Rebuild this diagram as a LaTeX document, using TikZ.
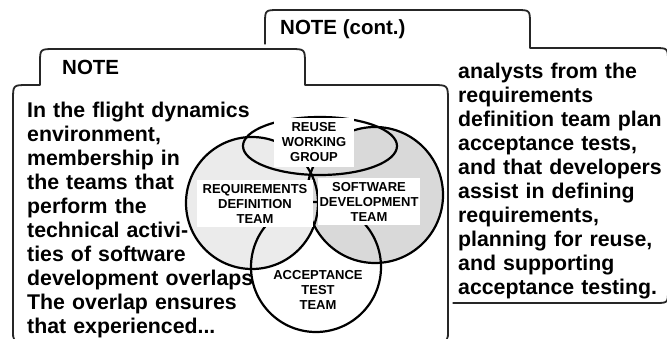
\documentclass[tikz,border=0pt]{standalone}
\usepackage{fontspec}
\setmainfont{Liberation Sans}
\begin{document}
\begin{tikzpicture}[x=1pt, y=-1pt,
    card/.style={draw=black!85, line width=1.8pt, fill=white, line join=round},
    front card/.style={card, preaction={draw=white, line width=9pt}},
    team line/.style={draw=black, line width=2.2pt},
    team label/.style={fill=white, inner sep=0pt, align=center, font=\bfseries\fontsize{13}{15}\selectfont},
    note head/.style={anchor=base west, inner sep=0pt, font=\bfseries\fontsize{20.5}{24}\selectfont},
    note text/.style={anchor=base west, inner sep=0pt, text width=300pt, align=left, font=\bfseries\fontsize{21.3}{23.9}\selectfont}]
    \useasboundingbox (0, 0) rectangle (667, 339);

    \draw[card] (300, 303) -- (265, 60) -- (265, 24) .. controls (265, 10) .. (279, 10) -- (516, 10) .. controls (530, 10) .. (530, 24) -- (530, 48) -- (654, 48) .. controls (668, 48) .. (668, 62) -- (668, 290) .. controls (668, 303) .. (655, 303) -- cycle;
    \node[note head] at (280, 35) (head2) {NOTE (cont.)};
    \node[note text] at (458, 79) (text2) {analysts from the\\ requirements\\ definition team plan\\ acceptance tests,\\ and that developers\\ assist in defining\\ requirements,\\ planning for reuse,\\ and supporting\\ acceptance testing.};

    \draw[front card] (13, 330) .. controls (13, 341) .. (23, 341) -- (438, 341) .. controls (448, 341) .. (448, 330) -- (448, 101) .. controls (448, 85) .. (432, 85) -- (305, 85) -- (305, 64) .. controls (305, 49) .. (290, 49) -- (55, 49) .. controls (40, 49) .. (40, 63) -- (40, 85) -- (28, 85) .. controls (13, 85) .. (13, 100) -- cycle;
    \node[note head] at (62, 75) (head1) {NOTE};
    \node[note text] at (27, 118) (text1) {In the flight dynamics\\ environment,\\ membership in\\ the teams that\\ perform the\\ technical activi-\\ ties of software\\ development overlaps.\\ The overlap ensures\\ that experienced...};

    \coordinate (req) at (252, 203);
    \coordinate (soft) at (375, 195);
    \coordinate (acc) at (316, 267);
    \coordinate (reuse) at (320, 146);
    \fill[white] (acc) circle[radius=65];
    \fill[black!8] (req) circle[radius=66];
    \fill[black!15] (soft) circle[radius=68];
    \draw[team line] (acc) circle[radius=65];
    \draw[team line] (req) circle[radius=66];
    \draw[team line] (soft) circle[radius=68];
    \draw[team line] (reuse) ellipse[x radius=77, y radius=29];

    \node[team label, minimum width=80, minimum height=49] at (314, 142.5) (reuse label) {REUSE\\ WORKING\\ GROUP};
    \node[team label, minimum width=116, minimum height=47] at (255, 203.5) (req label) {REQUIREMENTS\\ DEFINITION\\ TEAM};
    \node[team label, minimum width=102, minimum height=47] at (369, 201.5) (soft label) {SOFTWARE\\ DEVELOPMENT\\ TEAM};
    \node[team label, fill=none] at (318, 290) (acc label) {ACCEPTANCE\\ TEST\\ TEAM};
\end{tikzpicture}
\end{document}
